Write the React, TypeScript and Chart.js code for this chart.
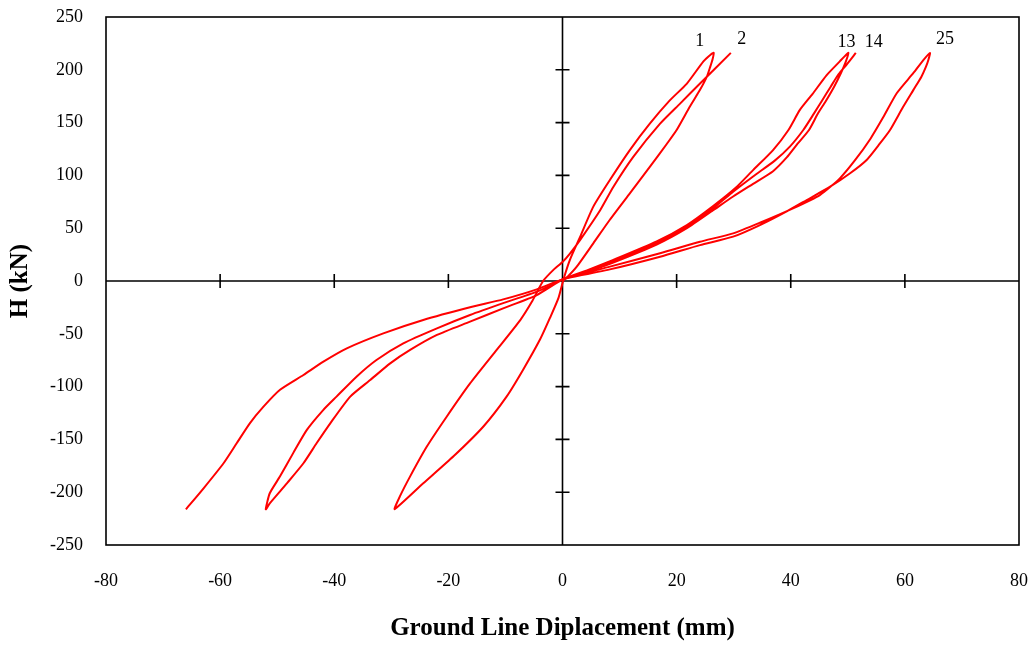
import React, { useEffect, useRef } from 'react';
import { Chart, registerables } from 'chart.js';

Chart.register(...registerables);

// ---- Data (Ground line displacement in mm, H in kN) ----
const xTickValues = [-80, -60, -40, -20, 0, 20, 40, 60, 80];
const yTickValues = [-250, -200, -150, -100, -50, 0, 50, 100, 150, 200, 250];

// Cycles 1 -> 2
const cycle1: [number, number][] = [
  [0, 0], [0.7, 3], [2.5, 13.6], [5.4, 35.7], [8.3, 58], [11.8, 83], [15.3, 108], [18.3, 130],
  [20.0, 143], [22.3, 165], [24.1, 181], [25.3, 193.5], [25.9, 203], [26.3, 210], [26.5, 216],
  [26.0, 214.5], [24.7, 208], [21.8, 187], [18.8, 171], [15.3, 149], [11.8, 124], [8.3, 95.6],
  [5.4, 70.4], [3.1, 42], [1.3, 20], [0.2, 2],
  [-0.7, -16], [-2.2, -35], [-3.9, -55], [-6.9, -84], [-9.8, -109.5], [-13.9, -138], [-19.1, -166],
  [-24.4, -191.6], [-29.4, -216],
  [-28.5, -204], [-26.7, -185], [-23.8, -157], [-20.3, -128.5], [-16.2, -97], [-11.5, -65],
  [-7.4, -37], [-5.4, -20], [-3.4, 0], [-1.5, 11], [0, 18], [1.3, 26], [3.1, 39], [6.6, 67],
  [8.9, 89], [12.4, 117.5], [17.1, 149], [20.6, 168], [24.1, 187], [29.5, 216],
];

// Cycles 13 -> 14
const cycle13: [number, number][] = [
  [0.2, 2], [4.5, 9], [8.9, 17.5], [16.5, 34.5], [21.8, 50], [26.4, 67], [29.9, 80], [33.4, 92],
  [36.9, 104], [39.3, 117], [41.2, 130], [43.2, 143], [44.8, 159], [46.1, 170], [47.6, 184],
  [48.8, 197], [49.6, 207], [50.1, 216],
  [49.3, 212], [48.6, 208], [46.3, 195], [43.8, 177], [41.6, 162], [39.6, 143], [36.9, 124],
  [33.4, 105], [30.5, 89], [26.4, 71], [21.8, 53], [16.5, 37.5], [8.9, 20], [4.5, 10.5], [0.2, 2],
  [-4.5, -13.3], [-10.4, -25.9], [-16.2, -38.5], [-22.0, -51.1], [-26.7, -65.3], [-30.2, -78],
  [-33.7, -93.8], [-37.2, -109.5], [-40.7, -134.8], [-43.1, -153.7], [-45.4, -172.6],
  [-48.3, -191.6], [-51.3, -210.5], [-52.0, -216.2],
  [-51.3, -201], [-49.5, -185], [-47.2, -163], [-44.8, -141], [-41.9, -122], [-39.6, -109.5],
  [-36.1, -90.6], [-32.6, -74.8], [-27.9, -59], [-22.0, -44.8], [-16.2, -32.2], [-10.4, -21],
  [-4.5, -10.1], [0.2, 2],
  [4.5, 10], [8.9, 18.5], [16.5, 36], [21.8, 51.5], [26.4, 69], [29.9, 84.5], [33.4, 99],
  [37.2, 114], [39.8, 127], [42.2, 143], [44.0, 158], [45.5, 171], [47.0, 184], [48.4, 196],
  [49.8, 205], [51.4, 216],
];

// Cycle 25
const cycle25: [number, number][] = [
  [0.2, 2], [8.3, 11], [17.1, 23], [24.1, 34], [29.9, 42], [34.6, 53], [39.3, 66], [42.8, 76.7],
  [46.9, 89.3], [50.4, 102], [53.3, 114.6], [55.6, 130], [57.4, 143], [59.7, 165], [61.5, 181],
  [62.9, 193.5], [63.7, 203], [64.1, 209], [64.4, 216],
  [63.2, 209], [61.5, 197], [58.6, 178], [56.2, 155], [54.0, 135], [51.3, 114.6], [48.6, 97.2],
  [45.1, 81.4], [40.4, 68.8], [34.6, 55.2], [29.9, 45.1], [24.1, 37.2], [17.1, 26.2], [8.3, 13.6],
  [0.2, 2],
  [-4.5, -7.9], [-10.4, -17.4], [-16.2, -24.9], [-24.4, -36.9], [-31.4, -49.6], [-37.8, -63.8],
  [-41.9, -76.4], [-45.4, -89], [-49.5, -103], [-52.4, -119], [-54.8, -134.8], [-57.1, -153.7],
  [-59.4, -172.6], [-62.9, -196.3], [-66.0, -216.2],
];

const cycleSeries = [cycle1, cycle13, cycle25];
const cycleNames = ['Cycles 1-2', 'Cycles 13-14', 'Cycle 25'];
// Curve labels: text, series index, which point ('peak' = first maximum, 'end' = last point)
const curveLabelTexts = ['1', '2', '13', '14', '25'];
const curveLabelSeries = [0, 0, 1, 1, 2];
const curveLabelAnchor = ['peak', 'end', 'peak', 'end', 'peak'];

const SERIF = "'Liberation Serif', 'Times New Roman', serif";
const labelOffsets: [number, number][] = [[-14, -12], [11, -14], [-2, -11], [18, -11], [15, -14]];

const axesPlugin = {
  id: 'centerAxes',
  beforeDatasetsDraw(chart: any) {
    const { ctx, chartArea: a, scales } = chart;
    const x = scales.x;
    const y = scales.y;
    ctx.save();
    ctx.strokeStyle = '#000';
    ctx.lineWidth = 1.6;
    ctx.strokeRect(a.left, a.top, a.right - a.left, a.bottom - a.top);
    const x0 = x.getPixelForValue(0);
    const y0 = y.getPixelForValue(0);
    ctx.beginPath();
    ctx.moveTo(a.left, y0);
    ctx.lineTo(a.right, y0);
    ctx.moveTo(x0, a.top);
    ctx.lineTo(x0, a.bottom);
    xTickValues.forEach((v) => {
      if (v === 0 || v <= x.min || v >= x.max) return;
      const px = x.getPixelForValue(v);
      ctx.moveTo(px, y0 - 7);
      ctx.lineTo(px, y0 + 7);
    });
    yTickValues.forEach((v) => {
      if (v === 0 || v <= y.min || v >= y.max) return;
      const py = y.getPixelForValue(v);
      ctx.moveTo(x0 - 7, py);
      ctx.lineTo(x0 + 7, py);
    });
    ctx.stroke();
    ctx.restore();
  },
  afterDatasetsDraw(chart: any) {
    const { ctx, scales } = chart;
    ctx.save();
    ctx.fillStyle = '#000';
    ctx.font = `18px ${SERIF}`;
    ctx.textAlign = 'center';
    ctx.textBaseline = 'middle';
    curveLabelTexts.forEach((t, i) => {
      const s = cycleSeries[curveLabelSeries[i]];
      let p = s[s.length - 1];
      if (curveLabelAnchor[i] === 'peak') {
        p = s.reduce((m, q) => (q[1] > m[1] ? q : m), s[0]);
      }
      const px = scales.x.getPixelForValue(p[0]) + labelOffsets[i][0];
      const py = scales.y.getPixelForValue(p[1]) + labelOffsets[i][1];
      ctx.fillText(t, px, py);
    });
    ctx.restore();
  },
};

export default function App() {
  const ref = useRef<HTMLCanvasElement>(null);
  useEffect(() => {
    const chart = new Chart(ref.current as HTMLCanvasElement, {
      type: 'scatter',
      data: {
        datasets: cycleSeries.map((s, i) => ({
          label: cycleNames[i],
          data: s.map(([x, y]) => ({ x, y })),
          showLine: true,
          borderColor: '#ff0000',
          backgroundColor: '#ff0000',
          borderWidth: 2,
          pointRadius: 0,
          tension: 0.2,
        })),
      },
      options: {
        animation: false,
        responsive: true,
        maintainAspectRatio: false,
        layout: { padding: { top: 17, right: 14, left: 0, bottom: 0 } },
        plugins: { legend: { display: false }, tooltip: { enabled: false } },
        scales: {
          x: {
            type: 'linear',
            min: -80,
            max: 80,
            afterBuildTicks: (s: any) => {
              s.ticks = xTickValues.map((v) => ({ value: v }));
            },
            afterFit: (s: any) => {
              s.height = 101;
              s.paddingLeft = 0;
              s.paddingRight = 0;
              s.paddingTop = 0;
              s.paddingBottom = 0;
            },
            grid: { display: false, drawTicks: false },
            border: { display: false },
            ticks: { color: '#000', font: { family: SERIF, size: 18 }, padding: 25, maxRotation: 0 },
            title: {
              display: true,
              text: 'Ground Line Diplacement (mm)',
              color: '#000',
              font: { family: SERIF, size: 25, weight: 'bold' },
              padding: { top: 0, bottom: 2 },
            },
          },
          y: {
            type: 'linear',
            min: -250,
            max: 250,
            afterBuildTicks: (s: any) => {
              s.ticks = yTickValues.map((v) => ({ value: v }));
            },
            afterFit: (s: any) => {
              s.width = 106;
              s.paddingLeft = 0;
              s.paddingRight = 0;
              s.paddingTop = 0;
              s.paddingBottom = 0;
            },
            grid: { display: false, drawTicks: false },
            border: { display: false },
            ticks: { color: '#000', font: { family: SERIF, size: 18 }, padding: 23 },
            title: {
              display: true,
              text: 'H (kN)',
              color: '#000',
              font: { family: SERIF, size: 25, weight: 'bold' },
              padding: { top: 6, bottom: 0 },
            },
          },
        },
      },
      plugins: [axesPlugin],
    } as any);
    return () => chart.destroy();
  }, []);
  return (
    <div style={{ position: 'absolute', left: 0, top: 0, width: 1033, height: 646, background: '#fff' }}>
      <canvas ref={ref} />
    </div>
  );
}
